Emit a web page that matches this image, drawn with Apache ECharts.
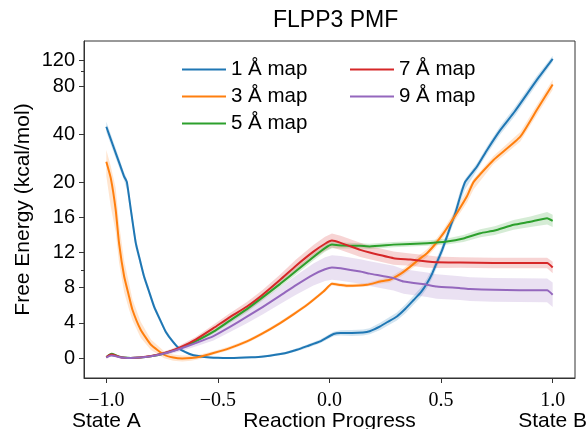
<!DOCTYPE html>
<html><head><meta charset="utf-8">
<script src="https://cdn.jsdelivr.net/npm/echarts@6/dist/echarts.min.js"></script>
<style>html,body{margin:0;padding:0;background:#fff}#c{width:587px;height:429px}</style>
</head><body><div id="c"></div>
<script>
// ---- data (Free energy in kcal/mol, error half-widths) ----
const names = ['1 Å map','3 Å map','5 Å map','7 Å map','9 Å map'];
const colors = ['#1f77b4','#ff7f0e','#2ca02c','#d62728','#9467bd'];

const x1 = [-1.00,-0.97,-0.94,-0.92,-0.908,-0.89,-0.868,-0.85,-0.831,-0.81,-0.786,-0.76,-0.734,-0.70,-0.67,-0.62,-0.56,-0.50,-0.445,-0.35,-0.296,-0.20,-0.146,-0.10,-0.042,0.018,0.05,0.10,0.15,0.18,0.227,0.26,0.302,0.34,0.377,0.41,0.437,0.46,0.48,0.505,0.526,0.545,0.564,0.586,0.608,0.661,0.706,0.765,0.83,0.93,1.00];
const y1 = [44.6,34,26,21.7,20.1,16.85,13.07,11.2,9.27,7.68,5.86,4.4,3.0,1.8,1.0,0.4,0.12,0.02,0,0.08,0.18,0.55,0.94,1.35,1.89,2.73,2.85,2.85,2.9,3.05,3.6,4.1,4.73,5.6,6.6,7.5,8.5,9.6,10.8,12.3,13.8,15.2,16.5,18.4,20.1,25.1,31.9,42.5,55.6,88.1,124];
const e1 = [3.3,2.5,1.8,1.2,1.0,0.7,0.6,0.5,0.45,0.4,0.35,0.3,0.25,0.2,0.15,0.12,0.1,0.1,0.1,0.1,0.12,0.15,0.18,0.2,0.22,0.25,0.3,0.35,0.35,0.35,0.4,0.42,0.45,0.5,0.5,0.52,0.55,0.55,0.55,0.55,0.55,0.6,0.6,0.7,0.9,1.3,1.8,2.6,3.5,5.5,7];

const x3 = [-1.00,-0.98,-0.958,-0.943,-0.92,-0.90,-0.883,-0.846,-0.80,-0.741,-0.70,-0.66,-0.62,-0.58,-0.52,-0.45,-0.37,-0.30,-0.221,-0.16,-0.10,-0.027,0.011,0.05,0.078,0.168,0.227,0.27,0.32,0.362,0.40,0.437,0.475,0.511,0.545,0.571,0.616,0.646,0.735,0.855,0.93,1.00];
const y3 = [26.9,21.2,16.85,13.07,9.27,7.2,5.49,3.22,1.51,0.375,0.05,-0.05,0,0.15,0.57,1.1,1.89,2.8,3.98,5.0,6.06,7.57,8.44,8.3,8.22,8.33,8.7,8.9,9.6,10.4,11.2,11.93,13.0,14.2,15.5,16.5,18.4,20.1,27.6,38.7,57.2,82];
const e3 = [5,4,2.5,2.2,1.8,1.5,1.2,0.9,0.6,0.4,0.35,0.35,0.3,0.25,0.2,0.2,0.2,0.2,0.2,0.2,0.2,0.2,0.2,0.2,0.2,0.2,0.25,0.3,0.35,0.4,0.45,0.45,0.45,0.45,0.5,0.55,0.7,0.9,1.6,2.6,4,6];

const x5 = [-1.00,-0.985,-0.975,-0.96,-0.94,-0.92,-0.89,-0.85,-0.80,-0.75,-0.70,-0.67,-0.60,-0.52,-0.45,-0.37,-0.30,-0.221,-0.15,-0.072,-0.02,0.011,0.06,0.138,0.18,0.287,0.437,0.526,0.60,0.676,0.74,0.825,0.90,0.975,1.00];
const y5 = [0.1,0.4,0.5,0.35,0.15,0.05,0.0,0.05,0.2,0.45,0.85,1.1,1.9,3.0,4.2,5.57,6.9,8.44,9.9,11.5,12.5,12.9,12.8,12.76,12.7,12.9,13.07,13.25,13.6,14.2,14.5,15.15,15.5,15.9,15.6];
const e5 = [0.05,0.08,0.08,0.08,0.06,0.05,0.05,0.05,0.08,0.1,0.12,0.15,0.2,0.25,0.3,0.35,0.35,0.4,0.4,0.4,0.4,0.4,0.35,0.3,0.3,0.3,0.3,0.35,0.4,0.45,0.5,0.55,0.6,0.7,0.7];

const x7 = [-1.00,-0.985,-0.975,-0.96,-0.94,-0.92,-0.89,-0.85,-0.80,-0.75,-0.70,-0.67,-0.60,-0.52,-0.45,-0.37,-0.30,-0.221,-0.15,-0.072,-0.02,0.011,0.05,0.138,0.18,0.287,0.362,0.437,0.48,0.586,0.735,0.975,1.00];
const y7 = [0.1,0.35,0.4,0.3,0.12,0.03,0,0.05,0.22,0.5,0.9,1.2,2.1,3.4,4.6,5.86,7.2,8.9,10.5,12.1,13.0,13.36,13.1,12.3,12.0,11.36,11.2,10.98,10.9,10.86,10.8,10.8,10.3];
const e7 = [0.05,0.08,0.08,0.08,0.06,0.05,0.05,0.06,0.1,0.15,0.2,0.25,0.3,0.4,0.45,0.5,0.55,0.6,0.7,0.75,0.8,0.8,0.8,0.8,0.75,0.75,0.7,0.7,0.65,0.6,0.6,0.6,0.65];

const x9 = [-1.00,-0.985,-0.975,-0.96,-0.94,-0.92,-0.89,-0.85,-0.80,-0.75,-0.70,-0.67,-0.60,-0.52,-0.45,-0.37,-0.30,-0.221,-0.15,-0.072,-0.02,0.011,0.05,0.138,0.18,0.287,0.332,0.437,0.48,0.586,0.63,0.735,0.85,0.975,1.00];
const y9 = [0.05,0.25,0.3,0.22,0.1,0.03,0,0.05,0.2,0.45,0.8,1.05,1.7,2.5,3.5,4.7,5.8,7.1,8.3,9.5,10.1,10.3,10.2,9.84,9.6,9.09,8.7,8.33,8.14,7.95,7.84,7.76,7.72,7.7,7.2];
const e9 = [0.05,0.08,0.08,0.08,0.06,0.05,0.05,0.07,0.12,0.18,0.25,0.3,0.4,0.5,0.6,0.75,0.85,0.95,1.1,1.25,1.35,1.4,1.4,1.4,1.4,1.4,1.4,1.4,1.4,1.35,1.35,1.35,1.35,1.35,1.4];

// axis ticks
const yTickVals = [0,4,8,12,16,20,40,80,120];
const yMinorVals = [10,100];
const xTickVals = [-1,-0.5,0,0.5,1];
const xTickLabels = ['−1.0','−0.5','0.0','0.5','1.0'];
const xEndLabels = ['State A','State B'];

// ---- y scale: linear up to 20, logarithmic-style above ----
const knots = [[20,20],[40,25.45],[80,30.91],[100,32.65],[120,33.82]];
function T(v){
  if (v <= 20) return v;
  for (let i = 0; i < knots.length - 1; i++) {
    const a = knots[i], b = knots[i+1];
    if (v <= b[0] || i === knots.length - 2) {
      return a[1] + (b[1]-a[1]) * Math.log(v/a[0]) / Math.log(b[0]/a[0]);
    }
  }
}

const sets = [[x1,y1,e1],[x3,y3,e3],[x5,y5,e5],[x7,y7,e7],[x9,y9,e9]];
const series = [];
sets.forEach((s, k) => {
  const [xs, ys, es] = s;
  series.push({
    type: 'custom', name: 'band' + k, silent: true, z: 1, clip: true,
    data: xs.map((x,i) => [x, T(ys[i])]),
    renderItem: (params, api) => {
      if (params.dataIndex !== 0) return null;
      const pts = [];
      for (let i = 0; i < xs.length; i++) pts.push(api.coord([xs[i], T(ys[i] + es[i])]));
      for (let i = xs.length - 1; i >= 0; i--) pts.push(api.coord([xs[i], T(ys[i] - es[i])]));
      return { type: 'polygon', shape: { points: pts }, style: { fill: colors[k], opacity: 0.2 } };
    }
  });
});
sets.forEach((s, k) => {
  const [xs, ys] = s;
  series.push({
    type: 'line', name: names[k], z: 3, showSymbol: false, smooth: 0.15, clip: true,
    data: xs.map((x,i) => [x, T(ys[i])]),
    lineStyle: { color: colors[k], width: 2, join: 'round' }, itemStyle: { color: colors[k] }
  });
});

const axisColor = '#333';
const chart = echarts.init(document.getElementById('c'), null, { renderer: 'canvas' });
chart.setOption({
  animation: false,
  backgroundColor: '#fff',
  title: { text: 'FLPP3 PMF', left: 268, top: 4,
    textStyle: { fontFamily: 'Liberation Sans', fontSize: 23, fontWeight: 'normal', color: '#000' } },
  grid: { left: 84, right: 12, top: 41, bottom: 51, show: true, borderColor: axisColor, borderWidth: 1,
    containLabel: false, outerBoundsMode: 'none' },
  legend: [
    { data: names.slice(0,3), orient: 'vertical', left: 177, top: 54, itemWidth: 44, itemHeight: 2, itemGap: 6, icon: 'rect',
      textStyle: { fontFamily: 'Liberation Sans', fontSize: 20.5, lineHeight: 20, color: '#000' } },
    { data: names.slice(3), orient: 'vertical', left: 345, top: 54, itemWidth: 44, itemHeight: 2, itemGap: 6, icon: 'rect',
      textStyle: { fontFamily: 'Liberation Sans', fontSize: 20.5, lineHeight: 20, color: '#000' } }
  ],
  xAxis: {
    type: 'value', min: -1.1, max: 1.1,
    name: 'Reaction Progress', nameLocation: 'middle', nameGap: 33, nameMoveOverlap: false,
    nameTextStyle: { fontFamily: 'Liberation Sans', fontSize: 21, color: '#000' },
    axisLine: { show: true, onZero: false, lineStyle: { color: axisColor } },
    axisTick: { show: true, length: 5, lineStyle: { color: axisColor }, customValues: xTickVals },
    splitLine: { show: false },
    axisLabel: {
      customValues: xTickVals, margin: 13, color: '#000', hideOverlap: false,
      formatter: v => {
        const i = xTickVals.findIndex(t => Math.abs(t - v) < 1e-9);
        const n = '{n|' + xTickLabels[i] + '}';
        if (i === 0) return n + '\n{s|' + xEndLabels[0] + '}';
        if (i === xTickVals.length - 1) return n + '\n{s|' + xEndLabels[1] + '}';
        return n;
      },
      rich: {
        n: { fontFamily: 'Liberation Serif', fontSize: 20, lineHeight: 20, color: '#000' },
        s: { fontFamily: 'Liberation Sans', fontSize: 21, lineHeight: 21, color: '#000' }
      }
    }
  },
  yAxis: [
    {
      type: 'value', min: -2.27, max: 36.06,
      name: 'Free Energy (kcal/mol)', nameLocation: 'middle', nameGap: 50, nameMoveOverlap: false,
      nameTextStyle: { fontFamily: 'Liberation Sans', fontSize: 21, color: '#000' },
      axisLine: { show: true, onZero: false, lineStyle: { color: axisColor } },
      axisTick: { show: true, length: 5, lineStyle: { color: axisColor }, customValues: yTickVals.map(T) },
      splitLine: { show: false },
      axisLabel: {
        customValues: yTickVals.map(T), margin: 9, color: '#000',
        fontFamily: 'Liberation Sans', fontSize: 20,
        formatter: v => {
          let best = 0, bd = 1e9;
          yTickVals.forEach((t, i) => { const d = Math.abs(T(t) - v); if (d < bd) { bd = d; best = i; } });
          return String(yTickVals[best]);
        }
      }
    },
    {
      type: 'value', min: -2.27, max: 36.06, position: 'left',
      axisLine: { show: false, onZero: false }, splitLine: { show: false },
      axisTick: { show: true, length: 3, lineStyle: { color: axisColor }, customValues: yMinorVals.map(T) },
      axisLabel: { show: false }
    }
  ],
  series: series
});
</script>
</body></html>
